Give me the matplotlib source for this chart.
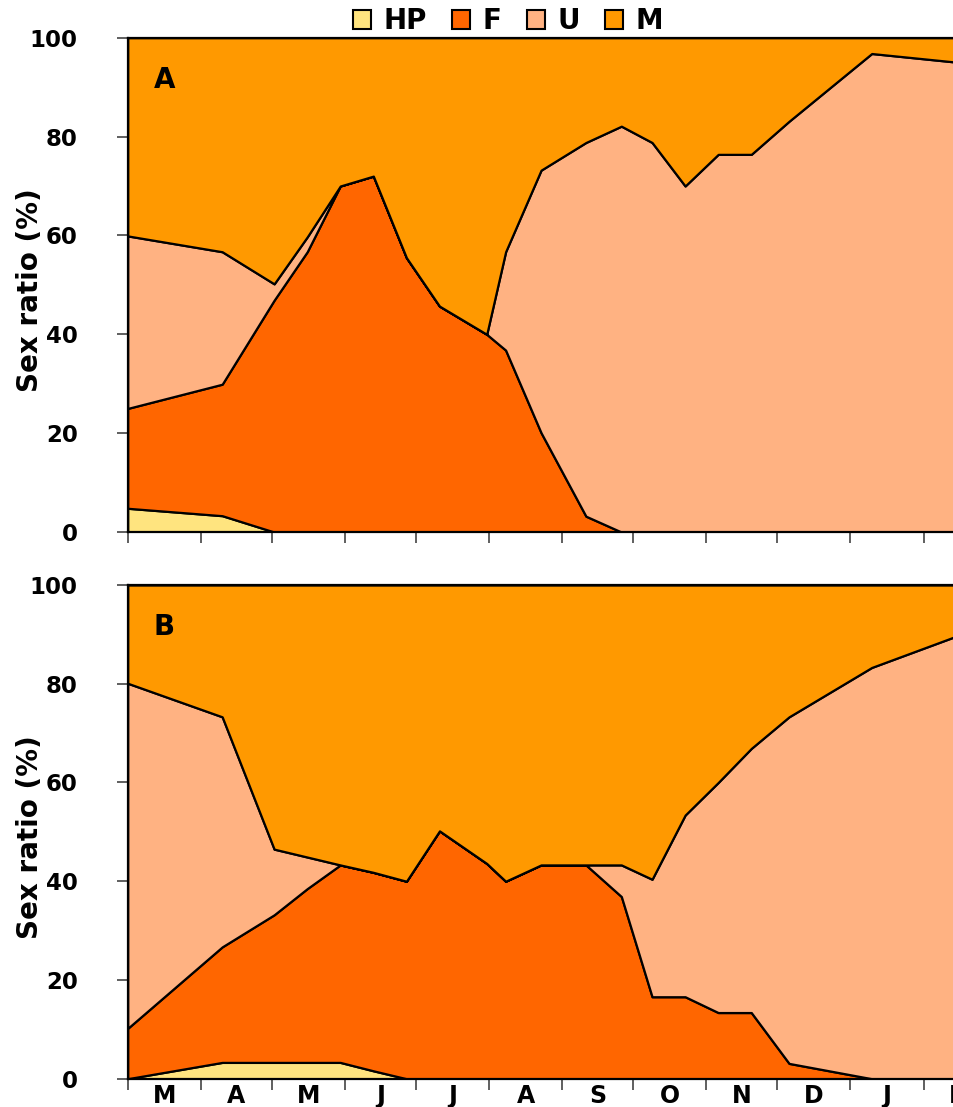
import numpy as np
import matplotlib
matplotlib.use("Agg")
import matplotlib.pyplot as plt
from matplotlib.patches import Patch

plt.rcParams['font.family'] = ['DejaVu Sans']
plt.rcParams['font.weight'] = 'bold'

# sampling dates, days since 1 March
days = [0, 40, 62, 76, 90, 104, 118, 132, 152, 160,
        175, 194, 209, 222, 236, 250, 264, 280, 315, 350]

# panel A (%)
hp_a = [4.8, 3.3, 0, 0, 0, 0, 0, 0, 0, 0, 0, 0, 0, 0, 0, 0, 0, 0, 0, 0]
f_a = [20.2, 26.6, 46.9, 56.7, 70.0, 72.0, 55.5, 45.7, 40.0, 36.8,
       20.1, 3.2, 0, 0, 0, 0, 0, 0, 0, 0]
u_a = [34.9, 26.8, 3.3, 3.0, 0, 0, 0, 0, 0, 19.9,
       53.1, 75.6, 82.1, 78.8, 70.0, 76.4, 76.4, 83.1, 96.8, 95.1]
m_a = [40.1, 43.3, 49.8, 40.3, 30.0, 28.0, 44.5, 54.3, 60.0, 43.3,
       26.8, 21.2, 17.9, 21.2, 30.0, 23.6, 23.6, 16.9, 3.2, 4.9]

# panel B (%)
hp_b = [0, 3.3, 3.3, 3.3, 3.3, 1.6, 0, 0, 0, 0, 0, 0, 0, 0, 0, 0, 0, 0, 0, 0]
f_b = [10.2, 23.4, 29.9, 35.2, 40.0, 40.2, 40.0, 50.2, 43.6, 40.0,
       43.3, 43.3, 36.9, 16.6, 16.6, 13.4, 13.4, 3.1, 0, 0]
u_b = [69.9, 46.6, 13.3, 6.4, 0, 0, 0, 0, 0, 0,
       0, 0, 6.4, 23.8, 36.8, 46.6, 53.5, 70.2, 83.3, 89.5]
m_b = [19.9, 26.7, 53.5, 55.1, 56.7, 58.2, 60.0, 49.8, 56.4, 60.0,
       56.7, 56.7, 56.7, 59.6, 46.6, 40.0, 33.1, 26.7, 16.7, 10.5]

categories = ['HP', 'F', 'U', 'M']
colors = ['#FFE47F', '#FF6600', '#FFB282', '#FF9900']
month_starts = [0, 31, 61, 92, 122, 153, 184, 214, 245, 275, 306, 337, 365]
month_labels = ['M', 'A', 'M', 'J', 'J', 'A', 'S', 'O', 'N', 'D', 'J', 'F']
panel_labels = ['A', 'B']

AX_W_PX = 365 * 2.362  # axes run past the right edge of the figure (cropped Feb)


def draw_panel(ax, series, label, show_months):
    ax.stackplot(days, *series, colors=colors, edgecolor='black', linewidth=1.6)
    ax.set_xlim(0, 365)
    ax.set_ylim(0, 100)
    ax.set_yticks([0, 20, 40, 60, 80, 100])
    ax.tick_params(axis='y', direction='out', length=8, width=1.2, color='#444',
                   pad=28, labelsize=16.5)
    ax.set_xticks(month_starts)
    ax.set_xticklabels([])
    ax.tick_params(axis='x', which='major', direction='out', length=8, width=1.2, color='#444')
    if show_months:
        mids = [(a + b) / 2 for a, b in zip(month_starts[:-1], month_starts[1:])]
        ax.set_xticks(mids, minor=True)
        ax.set_xticklabels(month_labels, minor=True, fontsize=17, fontweight='bold')
        ax.tick_params(axis='x', which='minor', length=0, pad=4)
    for s in ax.spines.values():
        s.set_linewidth(1.6)
    ax.spines['right'].set_visible(False)
    ax.set_ylabel('Sex ratio (%)', fontsize=20, fontweight='bold')
    ax.yaxis.set_label_coords((44 - 127.7) / AX_W_PX, 0.49)
    ax.text(0.03, 0.915, label, transform=ax.transAxes, fontsize=20,
            fontweight='bold', ha='left', va='center')


fig = plt.figure(figsize=(9.54, 11.07), dpi=100)
left = 127.7 / 954
width = AX_W_PX / 954
ax_a = fig.add_axes([left, (1107 - 532) / 1107, width, 494.3 / 1107])
ax_b = fig.add_axes([left, (1107 - 1078.7) / 1107, width, 493.7 / 1107])

draw_panel(ax_a, [hp_a, f_a, u_a, m_a], panel_labels[0], False)
draw_panel(ax_b, [hp_b, f_b, u_b, m_b], panel_labels[1], True)

handles = [Patch(facecolor=c, edgecolor='black', linewidth=1.5) for c in colors]
fig.legend(handles, categories, loc='center', bbox_to_anchor=(508 / 954, 0.981),
           ncol=4, frameon=False, handlelength=0.65, handleheight=0.7,
           handletextpad=0.45, columnspacing=0.9, prop={'weight': 'bold', 'size': 20})

fig.savefig('out.png', dpi=100)
